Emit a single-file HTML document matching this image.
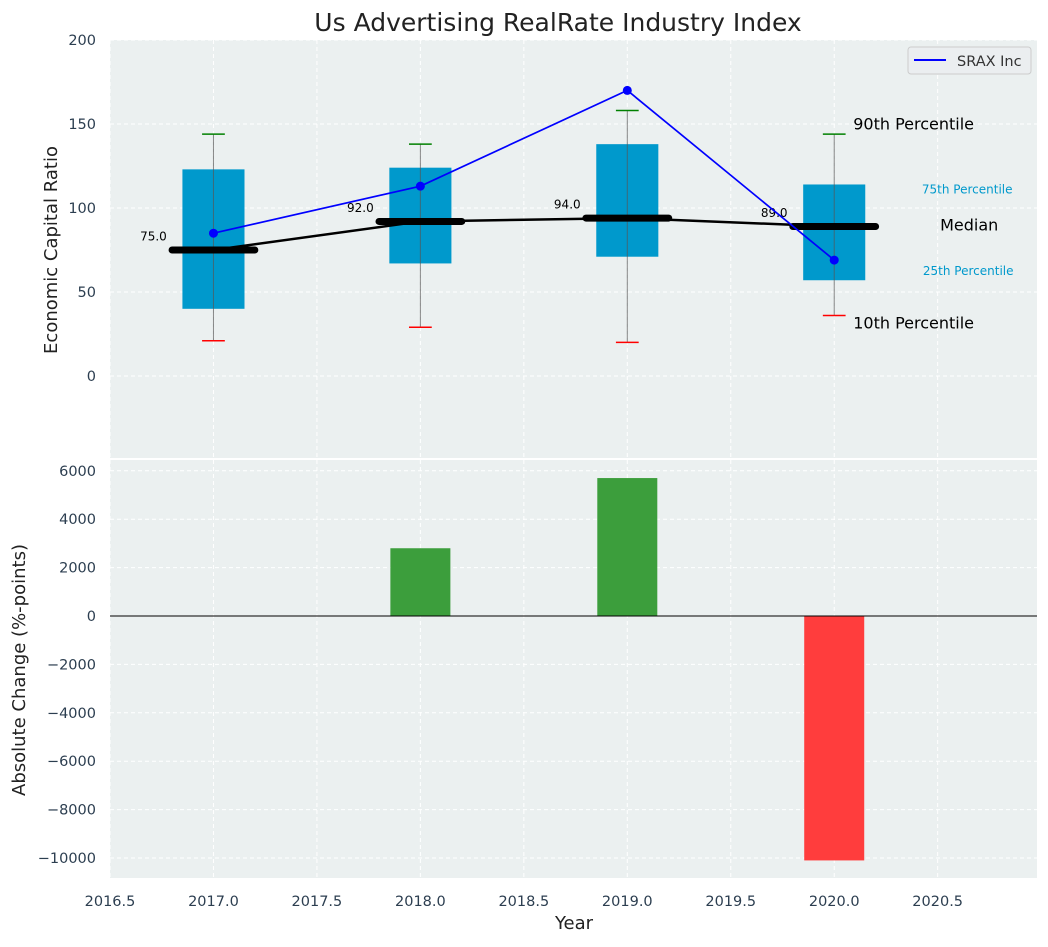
<!DOCTYPE html>
<html><head><meta charset="utf-8"><style>
body{margin:0;background:#fff;font-family:"Liberation Sans","DejaVu Sans",sans-serif}
svg text{font-family:"DejaVu Sans","Liberation Sans",sans-serif}
</style></head><body>
<svg id="c" width="1048" height="942" xmlns="http://www.w3.org/2000/svg"></svg>
<script>
const years=[2017,2018,2019,2020];
const p10=[21,29,20,36];
const q1=[40,67,71,57];
const medians=[75,92,94,89];
const q3=[123,124,138,114];
const p90=[144,138,158,144];
const srax=[85,113,170,69];
const changes=[0,2800,5700,-10100];
const xTicks=[2016.5,2017,2017.5,2018,2018.5,2019,2019.5,2020,2020.5];
const yTopTicks=[0,50,100,150,200];
const yBotTicks=[-10000,-8000,-6000,-4000,-2000,0,2000,4000,6000];

const svg=document.getElementById('c');
const NS='http://www.w3.org/2000/svg';
function mk(t,a,p){const e=document.createElementNS(NS,t);for(const k in a)e.setAttribute(k,a[k]);(p||svg).appendChild(e);return e;}
const L=110,R=1037;
const x=v=>L+(v-2016.5)*(R-L)/(2020.98-2016.5);
const T0=40,T1=458,yT=v=>376-(v)*1.68;
const B0=460,B1=878,yB=v=>616-v*0.0242;
const g1=mk('g',{});
const g2=mk('g',{});
mk('rect',{x:L,y:T0,width:R-L,height:T1-T0,fill:'#ebf0f0'},g1);
mk('rect',{x:L,y:B0,width:R-L,height:B1-B0,fill:'#ebf0f0'},g2);
const grid='stroke:#fff;stroke-dasharray:4,3;stroke-width:1';
xTicks.forEach(v=>{
 mk('line',{x1:x(v),x2:x(v),y1:T0,y2:T1,style:grid},g1);
 mk('line',{x1:x(v),x2:x(v),y1:B0,y2:B1,style:grid},g2);
 const t=mk('text',{x:x(v),y:906,'text-anchor':'middle','font-size':14.5,fill:'#2c3e50'},g2);t.textContent=v.toFixed(1);
 
});
yTopTicks.forEach(v=>{
 mk('line',{x1:L,x2:R,y1:yT(v),y2:yT(v),style:grid},g1);
 const t=mk('text',{x:96,y:yT(v)+5,'text-anchor':'end','font-size':14.5,fill:'#2c3e50'},g1);t.textContent=v;
 
});
yBotTicks.forEach(v=>{
 mk('line',{x1:L,x2:R,y1:yB(v),y2:yB(v),style:grid},g2);
 const t=mk('text',{x:96,y:yB(v)+5,'text-anchor':'end','font-size':14.5,fill:'#2c3e50'},g2);t.textContent=(v<0?'\u2212'+(-v):v);
 
});
years.forEach((yr,i)=>{
 const b=mk('rect',{x:x(yr-0.15),y:yT(q3[i]),width:x(yr+0.15)-x(yr-0.15),height:yT(q1[i])-yT(q3[i]),fill:'#0099cc'},g1);
 
 mk('line',{x1:x(yr),x2:x(yr),y1:yT(p90[i]),y2:yT(p10[i]),stroke:'#555','stroke-width':1,'stroke-opacity':0.7},g1);
 mk('line',{x1:x(yr-0.055),x2:x(yr+0.055),y1:yT(p90[i]),y2:yT(p90[i]),stroke:'green','stroke-width':1.5},g1);
 mk('line',{x1:x(yr-0.055),x2:x(yr+0.055),y1:yT(p10[i]),y2:yT(p10[i]),stroke:'red','stroke-width':1.5},g1);
});
mk('polyline',{points:years.map((yr,i)=>x(yr)+','+yT(medians[i])).join(' '),fill:'none',stroke:'#000','stroke-width':2.5},g1);
years.forEach((yr,i)=>{
 const m=mk('line',{x1:x(yr-0.2),x2:x(yr+0.2),y1:yT(medians[i]),y2:yT(medians[i]),stroke:'#000','stroke-width':7,'stroke-linecap':'round'},g1);
 
 const t=mk('text',{x:x(yr-0.29),y:yT(medians[i]+8)+4,'text-anchor':'middle','font-size':12,fill:'#000'},g1);t.textContent=medians[i].toFixed(1);
 
});
const sl=mk('polyline',{points:years.map((yr,i)=>x(yr)+','+yT(srax[i])).join(' '),fill:'none',stroke:'blue','stroke-width':1.7},g1);

years.forEach((yr,i)=>{const c=mk('circle',{cx:x(yr),cy:yT(srax[i]),r:4.5,fill:'blue'},g1);
 });
const last=years.length-1,lx=x(years[last]);
[['90th Percentile',lx+19,p90[last]+6,16,'#000','start'],['10th Percentile',lx+19,p10[last]-4.5,16,'#000','start'],
 ['75th Percentile',lx+133,q3[last]-3,12,'#0099cc','middle'],['25th Percentile',lx+134,q1[last]+5.5,12,'#0099cc','middle'],
 ['Median',lx+135,medians[last]+1,16,'#000','middle']].forEach(a=>{
 const t=mk('text',{x:a[1],y:yT(a[2])+a[3]*0.35,'font-size':a[3],fill:a[4],'text-anchor':a[5]},g1);t.textContent=a[0];
 
});
const lg=mk('g',{});
mk('rect',{x:908,y:47,width:123,height:27,rx:3,fill:'#ebeef0',stroke:'#ccc'},lg);
mk('line',{x1:914,x2:946,y1:60,y2:60,stroke:'blue','stroke-width':2},lg);
const lt=mk('text',{x:957,y:66,'font-size':14.5,fill:'#333'},lg);lt.textContent='SRAX Inc';
years.forEach((yr,i)=>{
 const v=changes[i];if(v===0)return;
 const r=mk('rect',{x:x(yr-0.145),y:Math.min(yB(v),yB(0)),width:x(yr+0.145)-x(yr-0.145),height:Math.abs(yB(v)-yB(0)),fill:v>0?'#3c9e3c':'#ff3d3d'},g2);
 
});
mk('line',{x1:L,x2:R,y1:yB(0),y2:yB(0),stroke:'#000','stroke-width':1},g2);
const tt=mk('text',{x:558,y:31,'text-anchor':'middle','font-size':25,fill:'#222'});tt.textContent='Us Advertising RealRate Industry Index';

const yt=mk('text',{x:0,y:0,'text-anchor':'middle','font-size':18,fill:'#222',transform:'translate(57,250) rotate(-90)'});yt.textContent='Economic Capital Ratio';

const yb=mk('text',{x:0,y:0,'text-anchor':'middle','font-size':18,fill:'#222',transform:'translate(25,670) rotate(-90)'});yb.textContent='Absolute Change (%-points)';

const xt=mk('text',{x:574,y:929,'text-anchor':'middle','font-size':18,fill:'#222'});xt.textContent='Year';

</script>
</body></html>
